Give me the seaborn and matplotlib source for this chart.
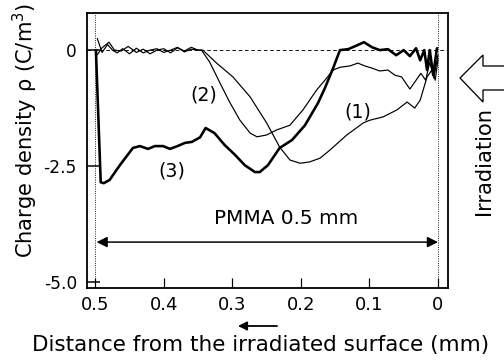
import numpy as np
import pandas as pd
import matplotlib
matplotlib.use("Agg")
import matplotlib.pyplot as plt
import matplotlib.patches as mpatches
import seaborn as sns

# ---- data ----
x1 = [0.497, 0.49, 0.48, 0.472, 0.462, 0.452, 0.44, 0.43, 0.42, 0.41, 0.40, 0.39, 0.38, 0.37, 0.36, 0.35, 0.343,
      0.323, 0.299, 0.274, 0.250, 0.231, 0.216, 0.201, 0.187, 0.172, 0.158, 0.133, 0.109, 0.099, 0.080, 0.060,
      0.045, 0.034, 0.026, 0.016, 0.009, 0.004, 0.0]
y1 = [-0.1, 0.05, 0.17, 0.0, -0.02, 0.08, -0.05, 0.02, -0.08, 0.0, 0.03, -0.06, 0.05, -0.02, 0.06, 0.0, 0.0,
      -0.28, -0.58, -1.01, -1.57, -2.09, -2.37, -2.44, -2.41, -2.33, -2.16, -1.83, -1.57, -1.51, -1.44, -1.29,
      -1.12, -1.25, -1.08, -0.58, -0.43, -0.65, -0.2]

x2 = [0.497, 0.49, 0.482, 0.475, 0.468, 0.46, 0.45, 0.44, 0.43, 0.42, 0.41, 0.40, 0.39, 0.38, 0.37, 0.36, 0.35, 0.345,
      0.333, 0.318, 0.304, 0.289, 0.274, 0.264, 0.250, 0.235, 0.216, 0.197, 0.177, 0.165, 0.153, 0.143, 0.128,
      0.117, 0.107, 0.096, 0.085, 0.073, 0.063, 0.053, 0.041, 0.032, 0.025, 0.018, 0.012, 0.006, 0.0]
y2 = [0.25, -0.05, 0.12, 0.0, -0.06, 0.03, -0.08, 0.04, -0.06, 0.0, 0.03, -0.05, 0.0, 0.06, -0.04, 0.02, 0.0, 0.0,
      -0.26, -0.71, -1.12, -1.51, -1.79, -1.87, -1.83, -1.72, -1.62, -1.29, -0.86, -0.65, -0.43, -0.37, -0.34,
      -0.28, -0.34, -0.39, -0.45, -0.43, -0.54, -0.58, -0.84, -0.65, -0.50, -0.65, -0.26, -0.60, -0.1]

x3 = [0.499, 0.492, 0.4876, 0.479, 0.464, 0.445, 0.435, 0.423, 0.413, 0.401, 0.391, 0.380, 0.369, 0.359, 0.347,
      0.339, 0.326, 0.311, 0.296, 0.282, 0.267, 0.260, 0.248, 0.231, 0.213, 0.194, 0.175, 0.165, 0.153, 0.143,
      0.131, 0.120, 0.108, 0.096, 0.085, 0.073, 0.061, 0.050, 0.041, 0.032, 0.026, 0.020, 0.016, 0.012, 0.007, 0.0015]
y3 = [0.0, -2.85, -2.87, -2.80, -2.48, -2.11, -2.07, -2.13, -2.07, -2.07, -2.13, -2.07, -2.0, -1.98, -1.88,
      -1.68, -1.79, -2.05, -2.26, -2.48, -2.63, -2.63, -2.48, -2.11, -1.94, -1.62, -1.14, -0.82, -0.39, 0.0,
      0.02, 0.09, 0.17, 0.06, 0.0, 0.02, -0.11, 0.0, -0.13, 0.04, -0.22, 0.0, -0.43, 0.0, -0.54, 0.04]

xticks = [0.5, 0.4, 0.3, 0.2, 0.1, 0.0]
xticklabels = ["0.5", "0.4", "0.3", "0.2", "0.1", "0"]
yticks = [0.0, -2.5, -5.0]
yticklabels = ["0", "-2.5", "-5.0"]

sns.set_style("ticks")
plt.rcParams['font.family'] = ['DejaVu Sans']
plt.rcParams['text.color'] = 'black'
plt.rcParams['axes.labelcolor'] = 'black'
plt.rcParams['xtick.color'] = 'black'
plt.rcParams['ytick.color'] = 'black'

fig = plt.figure(figsize=(7, 5), dpi=72)
W, H = 504, 360
ax = fig.add_axes([87 / W, 1 - 288 / H, (448 - 87) / W, (288 - 13) / H])

df1 = pd.DataFrame({"x": x1, "y": y1})
df2 = pd.DataFrame({"x": x2, "y": y2})
df3 = pd.DataFrame({"x": x3, "y": y3})
sns.lineplot(data=df1, x="x", y="y", ax=ax, color="black", lw=1.2, sort=False, estimator=None)
sns.lineplot(data=df2, x="x", y="y", ax=ax, color="black", lw=1.2, sort=False, estimator=None)
sns.lineplot(data=df3, x="x", y="y", ax=ax, color="black", lw=2.6, sort=False, estimator=None)

ax.axhline(0, color="black", lw=0.9, ls=(0, (4, 3)), zorder=1)
for xv in (0.5, 0.0):
    ax.axvline(xv, color="black", lw=0.9, ls=(0, (1, 1.5)), zorder=1)

ax.set_xlim(0.512, -0.0146)
ax.set_ylim(-5.13, 0.8)
ax.set_xticks(xticks)
ax.set_xticklabels(xticklabels)
ax.set_yticks(yticks)
ax.set_yticklabels(yticklabels)
ax.tick_params(axis="x", direction="in", length=10, width=1.2, labelsize=18, pad=8, colors="black")
ax.tick_params(axis="y", direction="in", length=13, width=1.5, labelsize=17, pad=10, colors="black")
ax.set_xlabel("")
ax.set_ylabel("")
for s in ax.spines.values():
    s.set_linewidth(1.8)
    s.set_color("black")

# annotations
ax.annotate("", xy=(0.498, -4.14), xytext=(0.0, -4.14),
            arrowprops=dict(arrowstyle="<|-|>", color="black", lw=1.5, mutation_scale=22, shrinkA=0, shrinkB=0))
ax.text(0.222, -3.64, "PMMA 0.5 mm", ha="center", va="center", fontsize=20, color="black")
ax.text(0.117, -1.34, "(1)", ha="center", va="center", fontsize=19, color="black")
ax.text(0.342, -0.97, "(2)", ha="center", va="center", fontsize=19, color="black")
ax.text(0.388, -2.61, "(3)", ha="center", va="center", fontsize=19, color="black")

fig.text(25 / W, 1 - 131 / H, "Charge density ρ (C/m$^3$)", rotation=90, ha="center", va="center",
         fontsize=21, color="black")
fig.text(261 / W, 1 - 345 / H, "Distance from the irradiated surface (mm)", ha="center", va="center",
         fontsize=21.5, color="black")
fig.text(484 / W, 1 - 161 / H, "Irradiation", rotation=90, ha="center", va="center", fontsize=21, color="black")

# small arrow under x-axis
fig.patches.append(mpatches.FancyArrowPatch((279 / W, 1 - 326 / H), (236 / W, 1 - 326 / H),
                                            transform=fig.transFigure, arrowstyle="-|>",
                                            mutation_scale=18, lw=1.8, color="black"))

# hollow irradiation arrow
pts = [(460, 78), (483, 55), (483, 66), (506, 66), (506, 90), (483, 90), (483, 102)]
poly = mpatches.Polygon([(px / W, 1 - py / H) for px, py in pts], closed=True,
                        transform=fig.transFigure, facecolor="white", edgecolor="black", lw=1.3)
fig.patches.append(poly)

fig.savefig("out.png", dpi=72)
